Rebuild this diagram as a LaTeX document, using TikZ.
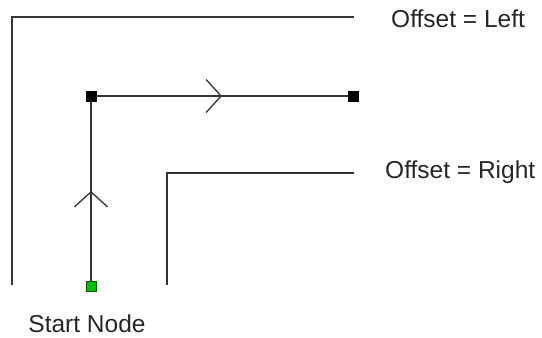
\documentclass[tikz,border=0pt]{standalone}
\usepackage{fontspec}
\setmainfont{Liberation Sans}
\usepackage{tikz}
\usetikzlibrary{arrows.meta,positioning,decorations.markings}
\usepackage{xcolor}
\definecolor{pathgray}{RGB}{51,51,51}
\definecolor{startgreen}{RGB}{0,190,0}
\definecolor{startrim}{RGB}{0,90,0}

\tikzset{
  waypoint/.style={draw=black,fill=black,minimum size=10pt,inner sep=0pt,line width=0.6pt},
  startpoint/.style={waypoint,draw=startrim,fill=startgreen},
  route/.style={pathgray,line width=1.6pt,postaction={decorate},
    decoration={markings,mark=at position 0.5 with
      {\arrow{Straight Barb[length=15pt,width=33pt,line width=1.3pt]}}}},
  offsetline/.style={pathgray,line width=1.8pt},
  caption/.style={font=\fontsize{24.5}{29}\selectfont,text=black!85,inner sep=0pt}
}

\begin{document}
\begin{tikzpicture}[x=1pt,y=-1pt]
        \useasboundingbox (0,0) rectangle (542,338);
        % path nodes
        \node[startpoint] (start)  at (91,286) {};
        \node[waypoint]   (corner) at (91,96) {};
        \node[waypoint]   (finish) at (353,96) {};
        \draw[route] (start) -- (corner);
        \draw[route] (corner) -- (finish);
        % offset lines
        \coordinate (leftfoot)  at (12,285);
        \coordinate (leftknee)  at (12,17);
        \coordinate (lefttip)   at (354,17);
        \coordinate (rightfoot) at (167,285);
        \coordinate (rightknee) at (167,173);
        \coordinate (righttip)  at (354,173);
        \draw[offsetline] (leftfoot) -- (leftknee) -- (lefttip);
        \draw[offsetline] (rightfoot) -- (rightknee) -- (righttip);
        % labels
        \node[caption,anchor=base west] (leftlabel)  at (391,27)  {Offset = Left};
        \node[caption,anchor=base west] (rightlabel) at (385,178) {Offset = Right};
        \node[caption,anchor=base]      (startlabel) at (87,332)  {Start Node};
      \end{tikzpicture}
\end{document}
